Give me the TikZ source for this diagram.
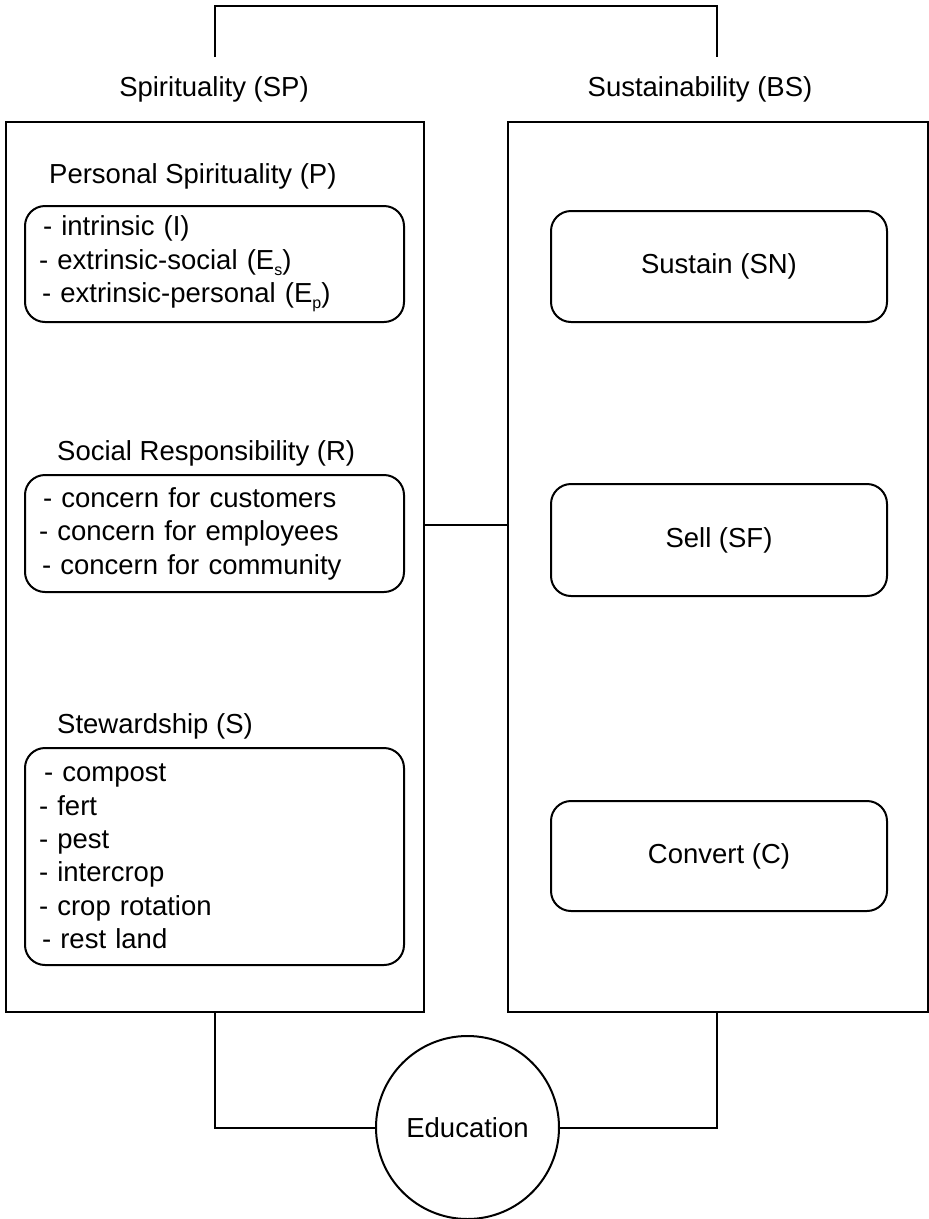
\documentclass[tikz,border=0pt]{standalone}
\usepackage{fontspec}
\setmainfont{Liberation Sans}
\begin{document}
\begin{tikzpicture}[x=1pt,y=-1pt,
  txt/.style={font=\fontsize{27.5}{33.4}\selectfont},
  bigbox/.style={draw, line width=2pt, inner sep=0pt},
  inbox/.style={draw, line width=2pt, rounded corners=20pt, txt},
  listbox/.style={inbox, align=left, inner xsep=14pt, inner ysep=0pt},
  wire/.style={line width=2pt},
  title/.style={txt, inner sep=0pt, anchor=base west}]
\useasboundingbox (0,0) rectangle (929,1219);

% big boxes
\node[bigbox, minimum width=418pt, minimum height=890pt] (L) at (215,567) {};
\node[bigbox, minimum width=420pt, minimum height=890pt] (R) at (718,567) {};

% top labels
\node[txt, inner sep=0pt, minimum height=65pt] (SP) at (214,89.5) {Spirituality (SP)};
\node[txt, inner sep=0pt, minimum height=65pt] (BS) at (700,89.5) {Sustainability (BS)};
\coordinate (tl) at (215,57);
\coordinate (tr) at (717,57);
\draw[wire] (tl) -- ++(0,-51) -| (tr);

% left titles
\node[title] (Pt) at (49,183) {Personal Spirituality (P)};
\node[title] (Rt) at (57,460) {Social Responsibility (R)};
\node[title] (St) at (57,733) {Stewardship (S)};

% left boxes
\node[listbox, text width=351pt, minimum height=116pt] (P) at (214.5,264) {%
\hspace*{4pt}- intrinsic (I)\\
- extrinsic-social (E\raisebox{-6pt}{\fontsize{16}{16}\selectfont s})\\
\hspace*{3pt}- extrinsic-personal (E\raisebox{-6pt}{\fontsize{16}{16}\selectfont p})};
\node[listbox, text width=351pt, minimum height=117pt] (Rb) at (214.5,533.5) {%
\hspace*{4pt}- concern for customers\\
- concern for employees\\
\hspace*{3pt}- concern for community};
\node[listbox, text width=351pt, minimum height=217pt] (S) at (214.5,856.5) {%
\hspace*{5pt}- compost\\
- fert\\
- pest\\
- intercrop\\
- crop rotation\\
\hspace*{3pt}- rest land};

% right boxes
\node[inbox, minimum width=336pt, minimum height=111pt] (SN) at (719,266.5) {Sustain (SN)};
\node[inbox, minimum width=336pt, minimum height=112pt] (SF) at (719,540) {Sell (SF)};
\node[inbox, minimum width=336pt, minimum height=110pt] (C) at (719,856) {Convert (C)};

% middle connector
\coordinate (mid) at (0,525);
\draw[wire] (L.east |- mid) -- (R.west |- mid);

% education
\node[draw, line width=2pt, circle, minimum size=183pt, inner sep=0pt, txt] (E) at (467.5,1127.5) {Education};
\draw[wire] (L.south) |- (E.west);
\draw[wire] ([xshift=-1pt]R.south) |- (E.east);
\end{tikzpicture}
\end{document}
